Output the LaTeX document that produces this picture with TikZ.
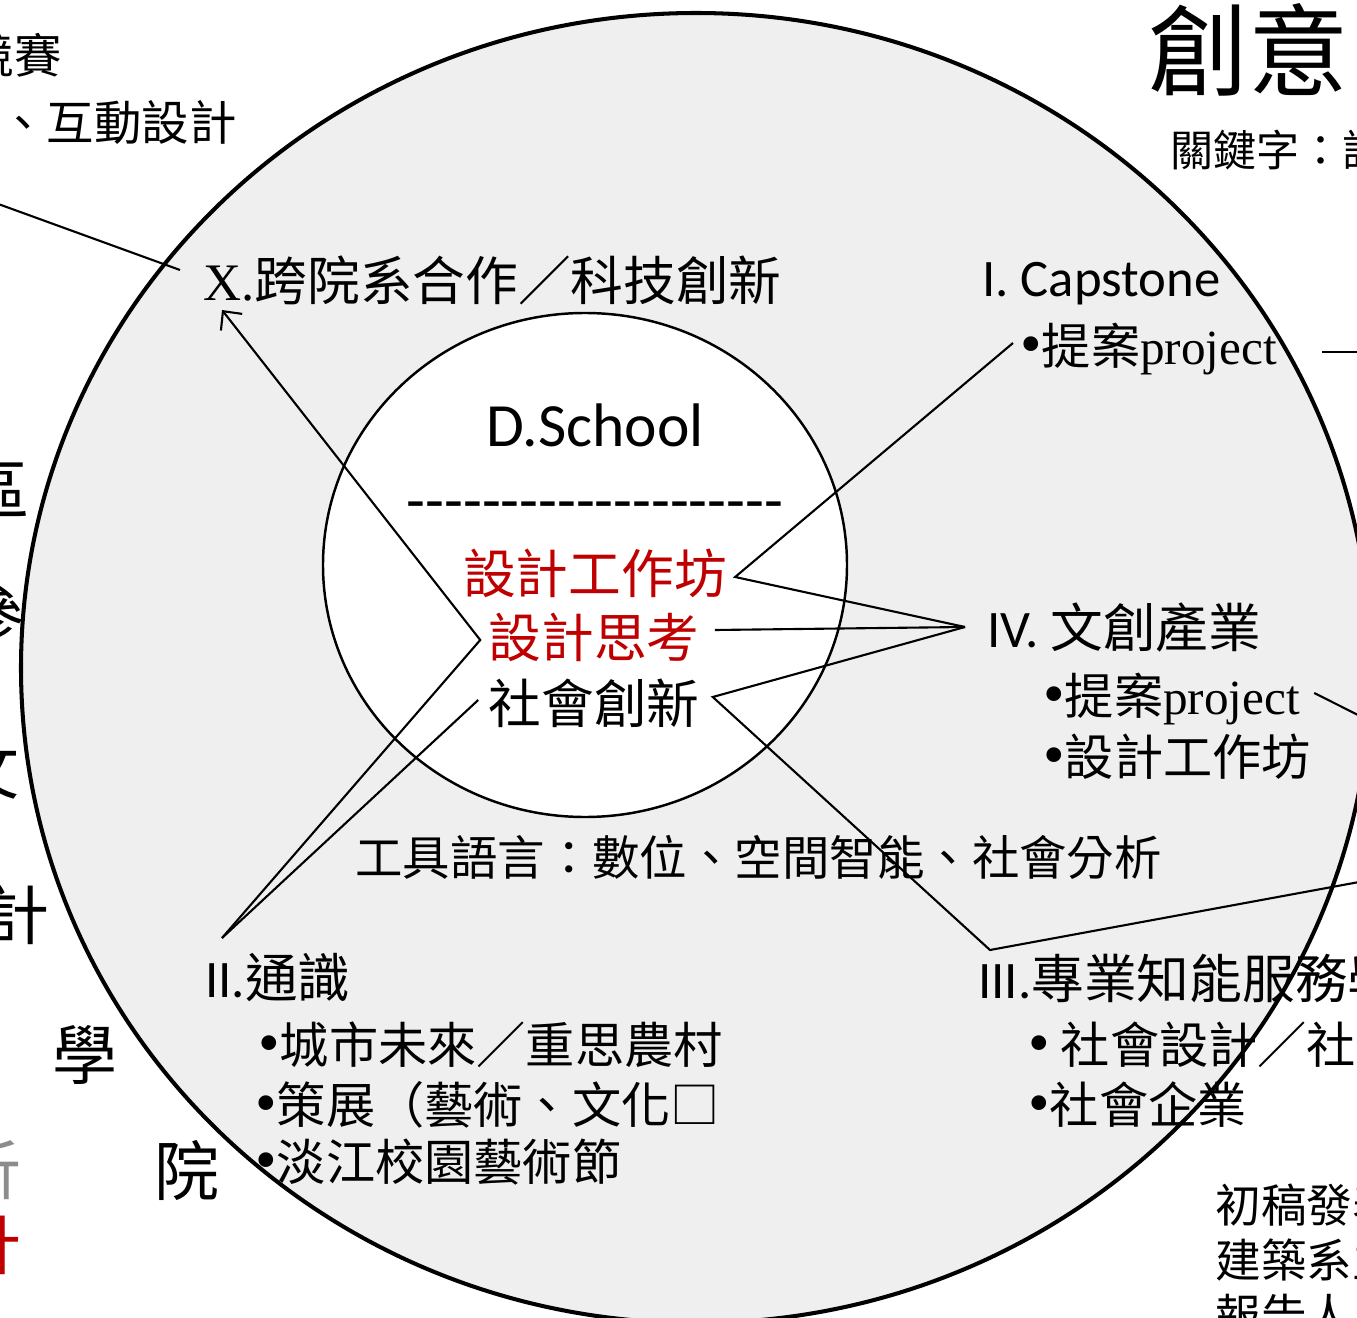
\documentclass[tikz,border=0pt]{standalone}
\usepackage{fontspec}
\setmainfont{Noto Sans CJK TC}
\newfontfamily\calibri{Carlito}
\newfontfamily\tnr{Liberation Serif}
\usepackage{xcolor}
\usepackage{tikz}
\usetikzlibrary{calc, arrows.meta, positioning}

\definecolor{ringgray}{HTML}{EFEFEF}
\definecolor{dsred}{HTML}{C00000}
\definecolor{fadegray}{HTML}{8C8C8C}
\newcommand{\dashrow}{\foreach \k in {1,...,20}{-\kern0pt}}
\newcommand{\bul}{{\tnr\fontsize{35}{35}\selectfont •}}

\begin{document}
\begin{tikzpicture}[
    x=0.02cm, y=-0.02cm,
    core/.style={font=\fontsize{30}{36}\selectfont, inner sep=0pt},
    lbl/.style={font=\fontsize{30}{36}\selectfont, inner sep=0pt, anchor=west},
    item/.style={font=\fontsize{28}{34}\selectfont, inner sep=0pt, anchor=west},
    side/.style={font=\fontsize{27}{32}\selectfont, inner sep=0pt},
    big/.style={font=\fontsize{37}{44}\selectfont, inner sep=0pt},
    conn/.style={draw=black, line width=1.2pt},
    arr/.style={conn, -{Straight Barb[length=2.8mm, width=5.4mm]}}
]
    \fill[white] (0,0) rectangle (1357,1318);
    \useasboundingbox (0,0) rectangle (1357,1318);

    % Rings
    \draw[line width=2.3pt, fill=ringgray] (696,668) ellipse [x radius=675, y radius=655];
    \draw[line width=1.4pt, fill=white] (585,565) ellipse [x radius=262, y radius=252];

    % Core: D.School
    \node (dschool) at (595,425) [core, font=\calibri\fontsize{35}{42}\selectfont] {D.School};
    \node (dashes) at (595,512) [core, font=\calibri\fontsize{35}{40}\selectfont] {\dashrow};
    \node (workshop) at (595,573) [core, text=dsred] {設計工作坊};
    \node (thinking) at (594,637) [core, text=dsred] {設計思考};
    \node (socinno) at (594,703) [core] {社會創新};

    % Ring labels
    \node (cross) at (203,280) [lbl] {{\tnr X.}跨院系合作／科技創新};
    \node (capstone) at (982,284) [lbl, font=\calibri\fontsize{30}{36}\selectfont] {I. Capstone};
    \node (capproj) at (1020,349) [item] {\bul 提案{\tnr project}};
    \node (culture) at (987,627) [lbl] {{\calibri IV.\ }文創產業};
    \node (culproj) at (1043,699) [item] {\bul 提案{\tnr project}};
    \node (culwork) at (1043,757) [item] {\bul 設計工作坊};
    \node (tools) at (355,857) [item, font=\fontsize{27}{32}\selectfont] {工具語言：數位、空間智能、社會分析};
    \node (general) at (205,978) [lbl] {{\calibri II.}通識};
    \node (gen1) at (258,1045) [item] {\bul 城市未來／重思農村};
    \node (gen2) at (255,1105) [item] {\bul 策展（藝術、文化□};
    \node (gen3) at (255,1162) [item] {\bul 淡江校園藝術節};
    \node (service) at (978,978) [lbl] {{\calibri III.}專業知能服務學};
    \node (serv1) at (1028,1045) [item] {\bul\ 社會設計／社區};
    \node (serv2) at (1028,1105) [item] {\bul 社會企業};

    % Slide text around the ring
    \node (topword) at (1148,50) [anchor=west, inner sep=0pt, font=\fontsize{57}{68}\selectfont] {創意};
    \node (keyword) at (1170,150) [side, anchor=west, font=\fontsize{24.5}{30}\selectfont] {關鍵字：設};
    \node (contest) at (62,55) [side, anchor=east] {競賽};
    \node (interact) at (237,122) [side, anchor=east] {、互動設計};
    \node (colA) at (30,490) [big, anchor=east] {區};
    \node (colB) at (25,615) [big, anchor=east] {參};
    \node (colC) at (20,770) [big, anchor=east] {文};
    \node (colD) at (50,915) [big, anchor=east] {計};
    \node (hallA) at (85,1055) [big] {學};
    \node (hallB) at (187,1170) [big] {院};
    \node (fadeA) at (22,1170) [big, anchor=east, text=fadegray] {析};
    \node (fadeB) at (22,1245) [big, anchor=east, text=dsred] {計};
    \node (draftA) at (1215,1205) [side, anchor=west, font=\fontsize{26}{31}\selectfont] {初稿發表};
    \node (draftB) at (1215,1260) [side, anchor=west, font=\fontsize{26}{31}\selectfont] {建築系主};
    \node (draftC) at (1215,1315) [side, anchor=west, font=\fontsize{26}{31}\selectfont] {報告人};

    % Bend points
    \coordinate (iiTip) at ($(general.west)+(17,-40)$);
    \coordinate (thinkL) at ($(thinking.west)+(-8,3)$);
    \coordinate (xTip) at ($(cross.west)+(19,30)$);
    \coordinate (socL) at ($(socinno.west)+(-10,-3)$);
    \coordinate (socR) at ($(socinno.east)+(13,-6)$);
    \coordinate (thinkR) at ($(thinking.east)+(15,-7)$);
    \coordinate (workR) at ($(workshop.east)+(8,4)$);
    \coordinate (capL) at ($(capproj.west)+(-7,-6)$);
    \coordinate (ivTip) at ($(culture.west)+(-22,0)$);
    \coordinate (iiiTip) at ($(service.west)+(12,-28)$);
    \coordinate (crossOut) at ($(cross.west)+(-23,-10)$);
    \coordinate (capOut) at ($(capproj.east)+(45,3)$);
    \coordinate (culOut) at ($(culproj.east)+(14,-6)$);
    \coordinate (leftEnd) at (-10,201);
    \coordinate (capEnd) at (1370,352);
    \coordinate (culEnd) at (1370,721);
    \coordinate (iiiEnd) at (1370,880);

    % Connectors
    \draw[arr] (iiTip) -- (thinkL) -- (xTip);
    \draw[conn] (iiTip) -- (socL);
    \draw[conn] (capL) -- (workR) -- (ivTip);
    \draw[conn] (thinkR) -- (ivTip);
    \draw[conn] (ivTip) -- (socR) -- (iiiTip) -- (iiiEnd);
    \draw[conn] (crossOut) -- (leftEnd);
    \draw[conn] (capOut) -- (capEnd);
    \draw[conn] (culOut) -- (culEnd);
\end{tikzpicture}
\end{document}
